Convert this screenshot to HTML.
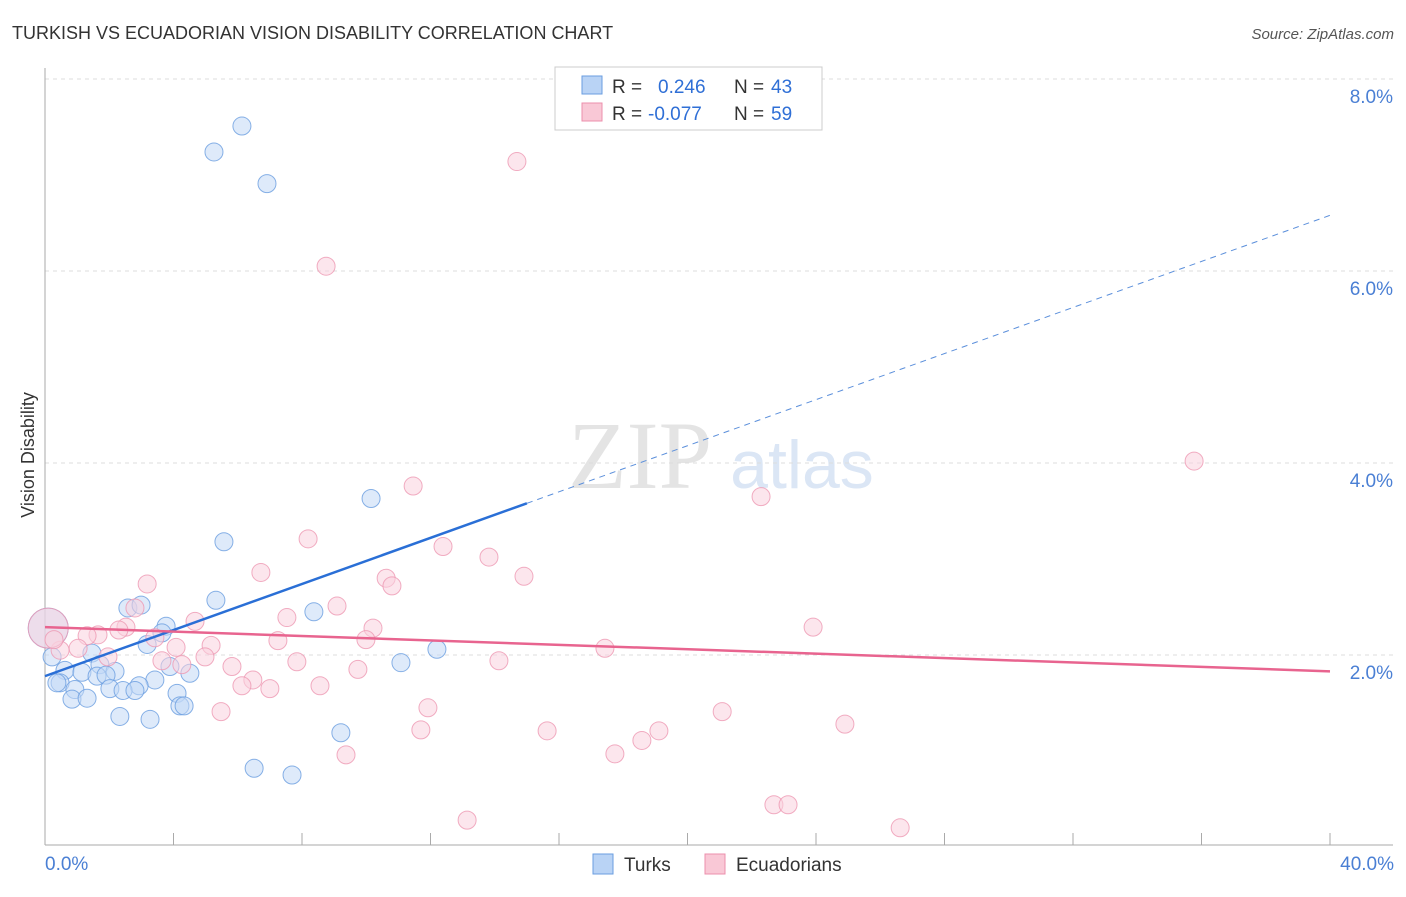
<!DOCTYPE html>
<html><head><meta charset="utf-8"><style>
body{margin:0;background:#fff;font-family:"Liberation Sans",sans-serif}
</style></head><body>
<svg width="1406" height="892" xmlns="http://www.w3.org/2000/svg" id="chart" font-family="Liberation Sans, sans-serif">
<text x="12" y="39" font-size="18" fill="#333">TURKISH VS ECUADORIAN VISION DISABILITY CORRELATION CHART</text>
<text x="1394" y="39" font-size="15" fill="#555" font-style="italic" text-anchor="end">Source: ZipAtlas.com</text>
<text x="640" y="488" font-size="96" fill="#e4e4e4" font-family="Liberation Serif, serif" text-anchor="middle">ZIP</text>
<text x="802" y="488" font-size="68" fill="#dbe6f5" text-anchor="middle">atlas</text>
<g id="grid"></g>
<g id="axes"></g>
<g id="marks"></g>
<text transform="translate(34,455) rotate(-90)" font-size="18" fill="#333" text-anchor="middle">Vision Disability</text>
<g>
<rect x="555" y="67" width="267" height="63" fill="#fff" stroke="#ccc"/>
<rect x="582" y="76" width="20" height="18" fill="#b9d3f5" stroke="#6a9ee0"/>
<rect x="582" y="103" width="20" height="18" fill="#f9c8d6" stroke="#ec8fac"/>
<text x="612" y="93" font-size="19" fill="#333">R =</text>
<text x="658" y="93" font-size="19" fill="#2f6fd6">0.246</text>
<text x="734" y="93" font-size="19" fill="#333">N =</text>
<text x="771" y="93" font-size="19" fill="#2f6fd6">43</text>
<text x="612" y="120" font-size="19" fill="#333">R =</text>
<text x="648" y="120" font-size="19" fill="#2f6fd6">-0.077</text>
<text x="734" y="120" font-size="19" fill="#333">N =</text>
<text x="771" y="120" font-size="19" fill="#2f6fd6">59</text>
</g>
<g>
<rect x="593" y="854" width="20" height="20" fill="#b9d3f5" stroke="#6a9ee0"/>
<text x="624" y="871" font-size="19" fill="#333">Turks</text>
<rect x="705" y="854" width="20" height="20" fill="#f9c8d6" stroke="#ec8fac"/>
<text x="736" y="871" font-size="19" fill="#333">Ecuadorians</text>
</g>
</svg>
<script>
const yTicks=[2,4,6,8];
const yTickLabels=["2.0%","4.0%","6.0%","8.0%"];
const xTickLabels=["0.0%","40.0%"];
const turksX=[6.13,5.26,6.91,10.15,5.57,5.32,2.58,2.99,8.37,3.77,3.64,3.18,12.2,11.08,1.46,0.22,1.71,2.18,0.62,1.15,1.62,1.9,3.89,4.51,3.42,2.93,0.47,0.93,2.02,2.43,2.8,4.11,0.84,1.31,4.2,4.33,2.33,3.27,9.21,6.51,7.69,0.37,0.1];
const turksY=[7.51,7.24,6.91,3.63,3.18,2.57,2.49,2.52,2.45,2.3,2.23,2.11,2.06,1.92,2.02,1.98,1.9,1.83,1.84,1.82,1.78,1.79,1.88,1.81,1.74,1.68,1.71,1.64,1.65,1.63,1.63,1.6,1.54,1.55,1.47,1.47,1.36,1.33,1.19,0.82,0.75,1.71,2.28];
const ecuX=[14.69,8.75,35.77,11.46,22.29,8.19,12.39,13.82,6.72,14.91,3.18,10.62,10.8,9.09,2.8,7.53,4.67,23.91,10.21,2.52,2.3,1.65,1.31,3.42,9.99,7.25,5.17,4.08,1.03,17.43,0.47,1.96,4.98,3.64,14.13,7.84,4.26,5.82,9.74,6.47,6.13,8.56,7.0,11.92,5.48,21.08,24.9,11.7,15.63,19.11,18.58,9.37,17.74,22.69,23.13,13.14,26.62,0.1,0.28];
const ecuY=[7.14,6.05,4.02,3.76,3.65,3.21,3.13,3.02,2.86,2.82,2.74,2.8,2.72,2.51,2.49,2.39,2.35,2.29,2.28,2.29,2.26,2.21,2.2,2.18,2.16,2.15,2.1,2.08,2.07,2.07,2.05,1.98,1.98,1.94,1.94,1.93,1.9,1.88,1.85,1.74,1.68,1.68,1.65,1.45,1.41,1.41,1.28,1.22,1.21,1.21,1.11,0.96,0.97,0.44,0.44,0.28,0.2,2.28,2.16];
const turksTrend=[1.78,6.58];
const ecuTrend=[2.29,1.83];
const NS="http://www.w3.org/2000/svg";
const X=v=>45+v/40*1285, Y=v=>847-v*96;
function mk(t,a,p){const e=document.createElementNS(NS,t);for(const k in a)e.setAttribute(k,a[k]);document.getElementById(p).appendChild(e);return e;}
yTicks.forEach((t,i)=>{
 const l=mk('line',{x1:45,x2:1393,y1:Y(t),y2:Y(t),stroke:'#ddd','stroke-dasharray':'4,4'},'grid');
 
 
 const tx=mk('text',{x:1393,y:Y(t)+24,'font-size':19,fill:'#4a7fd4','text-anchor':'end'},'axes');
 tx.textContent=yTickLabels[i];
 
 
});
mk('line',{x1:45,x2:45,y1:68,y2:845,stroke:'#aaa'},'axes');
mk('line',{x1:45,x2:1393,y1:845,y2:845,stroke:'#aaa'},'axes');
for(let i=0;i<=10;i++){const l=mk('line',{x1:X(i*4),x2:X(i*4),y1:833,y2:845,stroke:'#aaa'},'axes');
 
 }
[[0,'start'],[40,'end']].forEach((d,i)=>{const t=mk('text',{x:i?1394:45,y:870,'font-size':19,fill:'#4a7fd4','text-anchor':d[1]},'axes');t.textContent=xTickLabels[i];
 
 });
function dot(x,y,c,s,r){const e=mk('circle',{cx:X(x),cy:Y(y),r:r,fill:c,'fill-opacity':0.55,stroke:s,'stroke-opacity':0.8,'stroke-width':1},'marks');return e;}
turksX.forEach((x,i)=>{const e=dot(x,turksY[i],'#c3d9f6','#6a9ee0',i==42?20:9);
 
 });
ecuX.forEach((x,i)=>{const e=dot(x,ecuY[i],'#fad2de','#ee98b3',i==57?20:9);
 
 });
const tAt=v=>turksTrend[0]+(turksTrend[1]-turksTrend[0])*v/40;
let l=mk('line',{x1:X(0),y1:Y(tAt(0)),x2:X(15),y2:Y(tAt(15)),stroke:'#2a6fd6','stroke-width':2.5},'marks');


l=mk('line',{x1:X(15),y1:Y(tAt(15)),x2:X(40),y2:Y(tAt(40)),stroke:'#5b8fdb','stroke-width':1,'stroke-dasharray':'6,5'},'marks');


l=mk('line',{x1:X(0),y1:Y(ecuTrend[0]),x2:X(40),y2:Y(ecuTrend[1]),stroke:'#e8648f','stroke-width':2.5},'marks');


</script>
</body></html>
